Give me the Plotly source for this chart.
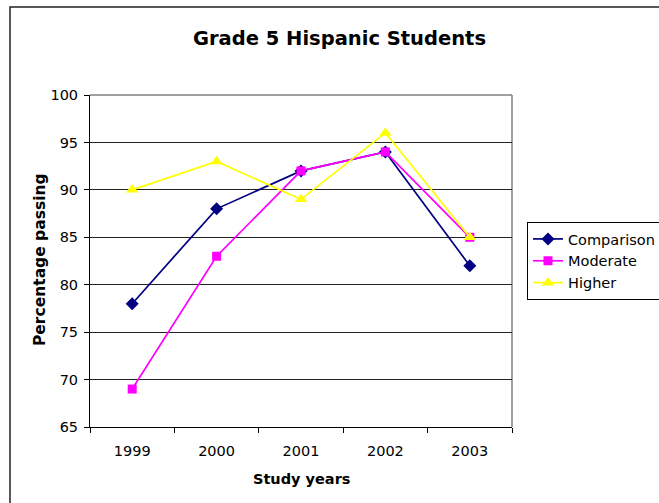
import plotly.graph_objects as go

years = ["1999", "2000", "2001", "2002", "2003"]
comparison = [78, 88, 92, 94, 82]
moderate = [69, 83, 92, 94, 85]
higher = [90, 93, 89, 96, 85]

FONT = "DejaVu Sans"
W, H = 659, 503
L, R, T, B = 90, 147, 95, 76
pw, ph = W - L - R, H - T - B


def px(x):
    return (x - L) / pw


def py(y):
    return (H - B - y) / ph


fig = go.Figure()
fig.add_trace(go.Scatter(x=years, y=comparison, name="Comparison", mode="lines+markers",
                         line=dict(color="#000080", width=1.7),
                         marker=dict(symbol="diamond", size=10, color="#000080")))
fig.add_trace(go.Scatter(x=years, y=moderate, name="Moderate", mode="lines+markers",
                         line=dict(color="#FF00FF", width=1.7),
                         marker=dict(symbol="square", size=9, color="#FF00FF")))
fig.add_trace(go.Scatter(x=years, y=higher, name="Higher", mode="lines+markers",
                         line=dict(color="#FFFF00", width=1.7),
                         marker=dict(symbol="triangle-up", size=11, color="#FFFF00")))

fig.update_layout(
    width=W, height=H,
    margin=dict(l=L, r=R, t=T, b=B, autoexpand=False),
    paper_bgcolor="white", plot_bgcolor="white",
    font=dict(family=FONT, size=14.5, color="black"),
    showlegend=True,
    legend=dict(x=px(527), y=py(222), xanchor="left", yanchor="top",
                bordercolor="black", borderwidth=1, bgcolor="white",
                font=dict(family=FONT, size=14.5), tracegroupgap=0,
                itemwidth=30),
)
fig.update_xaxes(type="category", range=[-0.5, 4.5], showgrid=False,
                 showline=True, linecolor="black", linewidth=1,
                 ticks="outside", ticklen=5, tickcolor="black",
                 tickson="boundaries", ticklabelstandoff=11,
                 tickfont=dict(size=14.5))
fig.update_yaxes(range=[65, 100], dtick=5, showgrid=True, gridcolor="#222222", gridwidth=1,
                 showline=True, linecolor="black", linewidth=1, zeroline=False,
                 ticks="outside", ticklen=5, tickcolor="black",
                 ticklabelstandoff=3, tickfont=dict(size=14.5))

# grey frame around the plot area (top and right edges)
fig.add_shape(type="line", xref="paper", yref="paper", x0=0, x1=1, y0=1, y1=1,
              line=dict(color="#808080", width=1.5), layer="below")
fig.add_shape(type="line", xref="paper", yref="paper", x0=1, x1=1, y0=0, y1=1,
              line=dict(color="#808080", width=1.5), layer="below")

# outer chart border
fig.add_shape(type="rect", xref="paper", yref="paper",
              x0=px(10), x1=px(W + 20), y0=py(H + 20), y1=py(7),
              line=dict(color="#222222", width=1.5), fillcolor="rgba(0,0,0,0)")

fig.add_annotation(text="<b>Grade 5 Hispanic Students</b>", xref="paper", yref="paper",
                   x=px(339), y=py(38), showarrow=False,
                   font=dict(family=FONT, size=19.5), xanchor="center", yanchor="middle")
fig.add_annotation(text="<b>Study years</b>", xref="paper", yref="paper",
                   x=px(301), y=py(479), showarrow=False,
                   font=dict(family=FONT, size=14.5), xanchor="center", yanchor="middle")
fig.add_annotation(text="<b>Percentage passing</b>", xref="paper", yref="paper",
                   x=px(40), y=py(260), showarrow=False, textangle=-90,
                   font=dict(family=FONT, size=15.5), xanchor="center", yanchor="middle")

fig.write_html("out.html")
